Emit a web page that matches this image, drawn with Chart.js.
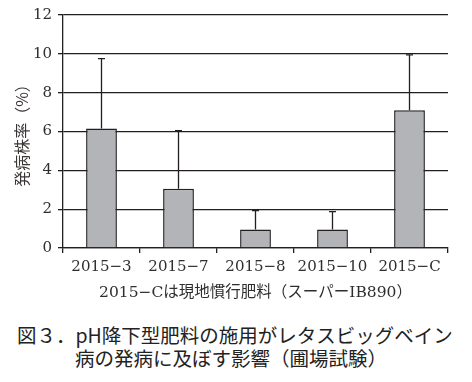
<!DOCTYPE html>
<html><head><meta charset="utf-8">
<script src="https://cdn.jsdelivr.net/npm/chart.js@4/dist/chart.umd.min.js"></script>
<style>
html,body{margin:0;padding:0;background:#fff;}
#wrap{position:relative;width:472px;height:382px;overflow:hidden;}
#cbox{position:absolute;left:0;top:0;width:472px;height:305px;}
.cap{position:absolute;font-family:"Noto Sans CJK JP",sans-serif;font-size:19.5px;color:#222;white-space:nowrap;line-height:23px;}
</style></head>
<body>
<div id="wrap">
<div id="cbox"><canvas id="c"></canvas></div>
<div class="cap" id="cap1" style="left:17px;top:323px;">図３．pH降下型肥料の施用がレタスビッグベイン</div>
<div class="cap" id="cap2" style="left:75px;top:346px;">病の発病に及ぼす影響（圃場試験）</div>
</div>
<script>
const categories = ["2015−3", "2015−7", "2015−8", "2015−10", "2015−C"];
const incidence = [6.15, 3.05, 0.95, 0.95, 7.1];
const errorUpper = [3.6, 3.0, 0.97, 0.92, 2.85];
const yTicks = [0, 2, 4, 6, 8, 10, 12];
const yTitle = "発病株率（%）";
const xTitle = "2015−Cは現地慣行肥料（スーパーIB890）";

const ink = "#231f20";
const errorBars = {
  id: "errorBars",
  afterDatasetsDraw(chart) {
    const ctx = chart.ctx;
    const ys = chart.scales.y;
    const meta = chart.getDatasetMeta(0);
    ctx.save();
    ctx.strokeStyle = ink;
    ctx.lineWidth = 1.3;
    meta.data.forEach((bar, i) => {
      const top = ys.getPixelForValue(incidence[i] + errorUpper[i]);
      const x = bar.x;
      ctx.beginPath();
      ctx.moveTo(x, bar.y);
      ctx.lineTo(x, top);
      ctx.moveTo(x - 3.5, top);
      ctx.lineTo(x + 3.5, top);
      ctx.stroke();
    });
    ctx.restore();
  }
};

new Chart(document.getElementById("c"), {
  type: "bar",
  data: {
    labels: categories,
    datasets: [{
      data: incidence,
      backgroundColor: "#b3b4b8",
      borderColor: ink,
      borderWidth: 1.5,
      borderSkipped: "bottom",
      barPercentage: 0.4,
      categoryPercentage: 1.0
    }]
  },
  options: {
    responsive: true,
    maintainAspectRatio: false,
    animation: false,
    devicePixelRatio: 1,
    layout: { padding: { left: 0, right: 24, top: 12, bottom: 0 } },
    plugins: { legend: { display: false }, tooltip: { enabled: false } },
    scales: {
      x: {
        offset: true,
        grid: { offset: true, drawOnChartArea: false, drawTicks: true, tickLength: 5, color: ink, lineWidth: 1.3 },
        border: { color: ink, width: 1.3 },
        ticks: { color: "#2e2e2e", font: { family: "DejaVu Serif", size: 15 }, padding: 5, maxRotation: 0, autoSkip: false },
        title: { display: true, text: xTitle, color: "#2e2e2e", font: { family: "'DejaVu Serif','Noto Sans CJK JP'", size: 15.5 }, padding: { top: 0, bottom: 3 } },
        afterFit(s) { s.height = 305 - 248; }
      },
      y: {
        min: 0, max: 12,
        afterBuildTicks(s) { s.ticks = yTicks.map(v => ({ value: v })); },
        grid: { color: ink, lineWidth: 1.3, tickLength: 5 },
        border: { color: ink, width: 1.3 },
        ticks: { color: "#2e2e2e", font: { family: "DejaVu Serif", size: 15 }, padding: 6 },
        title: { display: true, text: yTitle, color: "#3a3535", font: { family: "Noto Sans CJK JP", size: 16 }, padding: { top: 12, bottom: 0 } },
        afterFit(s) { s.width = 63; }
      }
    }
  },
  plugins: [errorBars]
});
</script>
</body></html>
